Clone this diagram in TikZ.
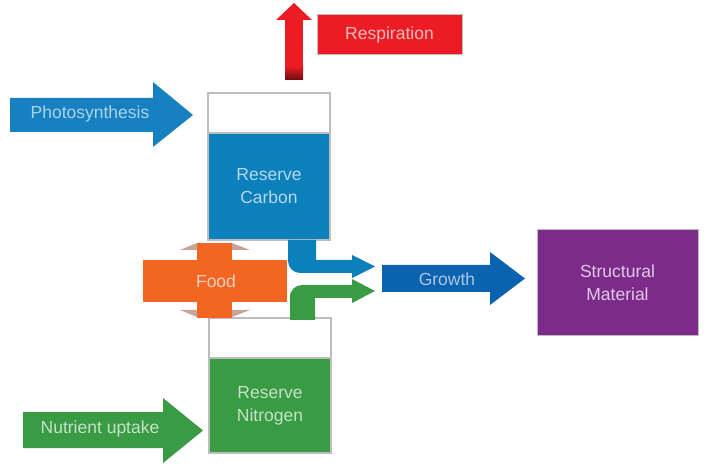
\documentclass[tikz,border=0pt]{standalone}
\usepackage{fontspec}
\setmainfont{Liberation Sans}
\usepackage{tikz}

\definecolor{kohlenstoff}{HTML}{0B80BB}
\definecolor{photo}{HTML}{1680C0}
\definecolor{stickstoff}{HTML}{3A9B45}
\definecolor{atmung}{HTML}{EC1C24}
\definecolor{futter}{HTML}{F26522}
\definecolor{ohr}{HTML}{C8A496}
\definecolor{wachstum}{HTML}{0B62AE}
\definecolor{struktur}{HTML}{7D2B8B}
\definecolor{rand}{HTML}{BDBDBD}

\tikzset{
  speicher/.style={draw=rand, line width=1.5pt, minimum width=122pt, inner sep=0pt, align=center},
  feld/.style={draw=rand, line width=1pt, inner sep=0pt, align=center}
}

\begin{document}
\begin{tikzpicture}[x=1pt, y=-1pt, font=\fontsize{17.5}{23}\selectfont]
  \useasboundingbox (0,0) rectangle (710,473);

  % Photosynthese
  \fill[photo] (10,98) -- (153,98) -- (153,82) -- (193,115) -- (153,147) -- (153,132) -- (10,132) -- cycle;
  \node[text=photo!35!white] (photosynthesis) at (90,114) {Photosynthesis};

  % Atmung
  \fill[atmung] (285,20) rectangle (303,66);
  \shade[top color=atmung, bottom color=atmung!45!black] (285,66) rectangle (303,80);
  \fill[atmung] (276,20) -- (294,3) -- (312,20) -- cycle;
  \node[feld, fill=atmung, minimum width=145pt, minimum height=40pt, text=atmung!30!white] (respiration) at (389.5,35) {Respiration};

  % Speicher Kohlenstoff
  \node[speicher, fill=white, minimum height=40pt] (carbontop) at (269,113) {};
  \node[speicher, fill=kohlenstoff, minimum height=107pt, text=kohlenstoff!30!white] (carbon) at (269,186.5) {Reserve\\Carbon};

  % Speicher Stickstoff
  \node[speicher, fill=white, minimum height=40pt] (nitrogentop) at (270,338) {};
  \node[speicher, fill=stickstoff, minimum height=95pt, text=stickstoff!30!white] (nitrogen) at (270,405.5) {Reserve\\Nitrogen};

  % Zufluss zum Wachstum
  \fill[kohlenstoff] (288,240) -- (316,240) -- (316,260) -- (352,260) -- (352,255) -- (375,266.5) -- (352,278) -- (352,273) -- (320,273)
    [rounded corners=12pt] -- (288,273) -- (288,250) [sharp corners] -- (288,240) -- cycle;
  \fill[stickstoff] (290,320) -- (315,320) -- (315,298) -- (352,298) -- (352,303) -- (375,291) -- (352,279) -- (352,285) -- (320,285)
    [rounded corners=12pt] -- (290,285) -- (290,300) [sharp corners] -- (290,320) -- cycle;

  % Futter
  \fill[futter] (143,260) rectangle (287,302);
  \fill[futter] (197,243) rectangle (232,318);
  \foreach \y/\s in {250/-7, 310/7} {
    \fill[ohr] (180,\y) -- (197,\y+\s) -- (197,\y) -- cycle;
    \fill[ohr] (250,\y) -- (232,\y+\s) -- (232,\y) -- cycle;
  }
  \node[text=futter!30!white] (food) at (216,281) {Food};

  % Wachstum
  \fill[wachstum] (382,265) -- (490,265) -- (490,252) -- (525,278.5) -- (490,305) -- (490,292) -- (382,292) -- cycle;
  \node[text=wachstum!35!white] (growth) at (447,279) {Growth};

  % Strukturmaterial
  \node[feld, fill=struktur, minimum width=161pt, minimum height=105pt, text=struktur!25!white] (structural) at (617.5,282.5) {Structural\\Material};

  % Naehrstoffaufnahme
  \fill[stickstoff] (23,412) -- (163,412) -- (163,398) -- (203,430.5) -- (163,463) -- (163,448) -- (23,448) -- cycle;
  \node[text=stickstoff!30!white] (uptake) at (100,429) {Nutrient uptake};

\end{tikzpicture}
\end{document}
